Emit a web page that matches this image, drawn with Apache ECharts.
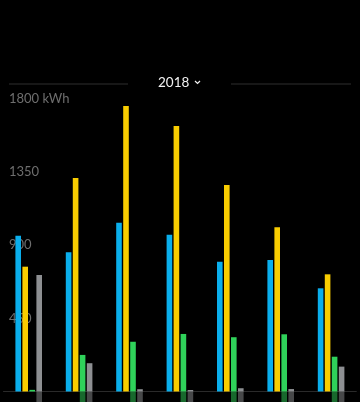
<!DOCTYPE html>
<html>
<head>
<meta charset="utf-8">
<script src="https://cdn.jsdelivr.net/npm/echarts@6/dist/echarts.min.js"></script>
<style>
html,body{margin:0;padding:0;background:#000;overflow:hidden;}
#chart{width:360px;height:465px;}
</style>
</head>
<body>
<div id="chart"></div>
<script>
const categories = ['Jan', 'Feb', 'Mar', 'Apr', 'May', 'Jun', 'Jul'];
const homeUse = [959, 857, 1039, 965, 799, 809, 635];
const solar = [768, 1314, 1757, 1634, 1271, 1010, 721];
const powerwallOut = [10, 225, 306, 354, 334, 352, 214];
const powerwallIn = [0, -150, -200, -220, -210, -200, -140];
const gridIn = [717, 174, 14, 9, 20, 15, 153];
const gridOut = [-120, -160, -300, -350, -280, -220, -100];
const yTickLabels = ['450', '900', '1350', '1800 kWh'];
const yearLabel = '2018';

const COLORS = { home: '#0aaeec', solar: '#f9cd00', pw: '#2fd25a', grid: '#8d8f92' };
const FONT = 'Lato, "Noto Sans", sans-serif';

const chart = echarts.init(document.getElementById('chart'), null, { renderer: 'canvas' });

function bar(name, data, color, stack, opacity) {
  const s = {
    name: name,
    type: 'bar',
    data: data,
    barWidth: 5.6,
    barGap: '25%',
    itemStyle: { color: color, opacity: opacity },
    emphasis: { disabled: true },
    silent: true
  };
  if (stack) { s.stack = stack; }
  return s;
}

chart.setOption({
  backgroundColor: '#000',
  animation: false,
  title: {
    text: yearLabel,
    left: 158,
    top: 76,
    padding: 0,
    textStyle: { color: '#f2f2f2', fontSize: 13.5, fontWeight: 'normal', fontFamily: FONT }
  },
  graphic: [
    { type: 'line', shape: { x1: 9, y1: 84, x2: 128, y2: 84 }, style: { stroke: '#2e2e2e', lineWidth: 1 } },
    { type: 'line', shape: { x1: 231, y1: 84, x2: 351, y2: 84 }, style: { stroke: '#2e2e2e', lineWidth: 1 } },
    { type: 'polyline', shape: { points: [[195, 81], [197.5, 83.5], [200, 81]] }, style: { stroke: '#f2f2f2', lineWidth: 1.2, fill: null } }
  ],
  grid: { left: 3.5, right: 3.7, top: 99, bottom: 0.4, containLabel: false },
  xAxis: {
    type: 'category',
    data: categories,
    axisLine: { show: true, onZero: true, lineStyle: { color: '#2a2a2a', width: 1 } },
    axisTick: { show: false },
    axisLabel: { show: false },
    splitLine: { show: false }
  },
  yAxis: {
    type: 'value',
    min: -450,
    max: 1800,
    interval: 450,
    axisLine: { show: false },
    axisTick: { show: false },
    splitLine: { show: false },
    axisLabel: {
      inside: true,
      margin: 5.5,
      color: '#6e6e6e',
      fontSize: 13,
      fontFamily: FONT,
      verticalAlign: 'middle',
      formatter: function (v) {
        const idx = Math.round(v / 450) - 1;
        return (idx >= 0 && idx < yTickLabels.length) ? yTickLabels[idx] : '';
      }
    }
  },
  series: [
    bar('Home', homeUse, COLORS.home, null, 1),
    bar('Solar', solar, COLORS.solar, null, 1),
    bar('Powerwall', powerwallOut, COLORS.pw, 'pw', 1),
    bar('Powerwall charge', powerwallIn, COLORS.pw, 'pw', 0.5),
    bar('Grid', gridIn, COLORS.grid, 'grid', 1),
    bar('Grid export', gridOut, COLORS.grid, 'grid', 0.5)
  ]
});
</script>
</body>
</html>
